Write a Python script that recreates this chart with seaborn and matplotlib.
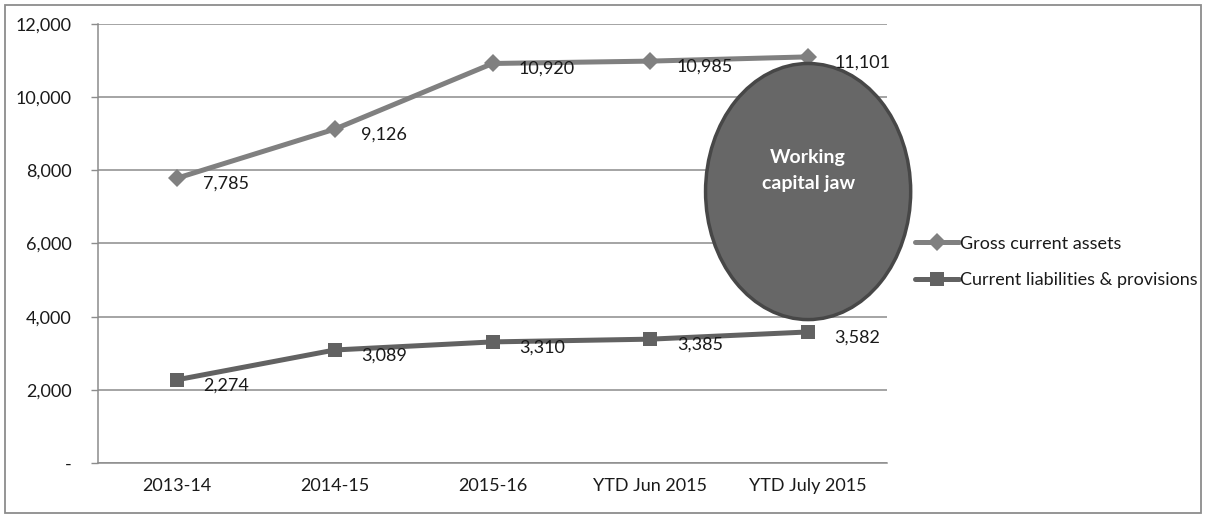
import matplotlib
matplotlib.use("Agg")
import matplotlib.pyplot as plt
from matplotlib.patches import Ellipse, Rectangle
from matplotlib.ticker import FuncFormatter, FixedLocator
import seaborn as sns
import pandas as pd

periods = ["2013-14", "2014-15", "2015-16", "YTD Jun 2015", "YTD July 2015"]
gross_current_assets = [7785, 9126, 10920, 10985, 11101]
current_liabilities = [2274, 3089, 3310, 3385, 3582]
series_names = ["Gross current assets", "Current liabilities & provisions"]
y_ticks = [0, 2000, 4000, 6000, 8000, 10000, 12000]

sns.set_theme(style="white")
plt.rcParams["font.family"] = ["Lato", "DejaVu Sans"]

FS = 13
TXT = "#1a1a1a"

pos = list(range(len(periods)))
df = pd.DataFrame({
    "pos": pos * 2,
    "value": gross_current_assets + current_liabilities,
    "series": [series_names[0]] * len(periods) + [series_names[1]] * len(periods),
})

colors = {series_names[0]: "#808080", series_names[1]: "#626262"}
markers = {series_names[0]: "D", series_names[1]: "s"}

fig = plt.figure(figsize=(12.06, 5.19), dpi=100)
ax = fig.add_axes([0.0813, 0.1079, 0.6542, 0.8459])

sns.lineplot(data=df, x="pos", y="value", hue="series", style="series",
             palette=colors, markers=markers, dashes=False, linewidth=3.6,
             markersize=10, markeredgewidth=0, ax=ax, zorder=4, legend=True)

for line in ax.lines:
    if line.get_marker() == "D":
        line.set_markersize(9)
    elif line.get_marker() == "s":
        line.set_markersize(10)

ax.set_xlim(-0.5, len(periods) - 0.5)
ax.set_ylim(0, 12000)
ax.set_xlabel("")
ax.set_ylabel("")

ax.set_yticks(y_ticks)
ax.yaxis.set_major_formatter(FuncFormatter(lambda v, p: "-" if v == 0 else f"{int(v):,}"))
ax.set_xticks(pos)
ax.set_xticklabels(periods)
ax.xaxis.set_minor_locator(FixedLocator([i - 0.5 for i in range(len(periods) + 1)]))

ax.grid(axis="y", color="#8c8c8c", linewidth=1.1)
ax.set_axisbelow(True)
for side in ["top", "right"]:
    ax.spines[side].set_visible(False)
for side in ["left", "bottom"]:
    ax.spines[side].set_color("#8c8c8c")
    ax.spines[side].set_linewidth(1.1)

ax.tick_params(axis="x", which="major", length=0, pad=11, labelsize=FS, labelcolor=TXT)
ax.tick_params(axis="x", which="minor", length=5, width=1, color="#8c8c8c", direction="out")
ax.tick_params(axis="y", which="major", length=5, width=1, color="#8c8c8c", direction="out",
               left=True, pad=14, labelsize=FS, labelcolor=TXT)

# value labels beside each point
for series in (gross_current_assets, current_liabilities):
    for i, v in enumerate(series):
        ax.annotate(f"{v:,}", (i, v), xytext=(19, -4), textcoords="offset points",
                    ha="left", va="center", fontsize=FS, color=TXT, zorder=6)

# working capital jaw callout
jaw = Ellipse((4, 7420), width=1.3, height=7000, facecolor="#676767",
              edgecolor="#474747", linewidth=2.5, zorder=5, clip_on=False)
ax.add_patch(jaw)
ax.text(4, 8000, "Working\ncapital jaw", ha="center", va="center", color="white",
        fontsize=14, fontweight="bold", linespacing=1.6, zorder=7)

handles, labels = ax.get_legend_handles_labels()
leg = ax.legend(handles, labels, loc="center left", bbox_to_anchor=(0.753, 0.495),
                bbox_transform=fig.transFigure, frameon=False, fontsize=FS,
                handlelength=2.4, handletextpad=0.1, labelspacing=1.15, borderaxespad=0)
for t in leg.get_texts():
    t.set_color(TXT)

# outer chart border
fig.patches.append(Rectangle((0.004, 0.012), 0.992, 0.978, transform=fig.transFigure,
                             fill=False, edgecolor="#8c8c8c", linewidth=1.3))

fig.savefig("out.png", dpi=100)
